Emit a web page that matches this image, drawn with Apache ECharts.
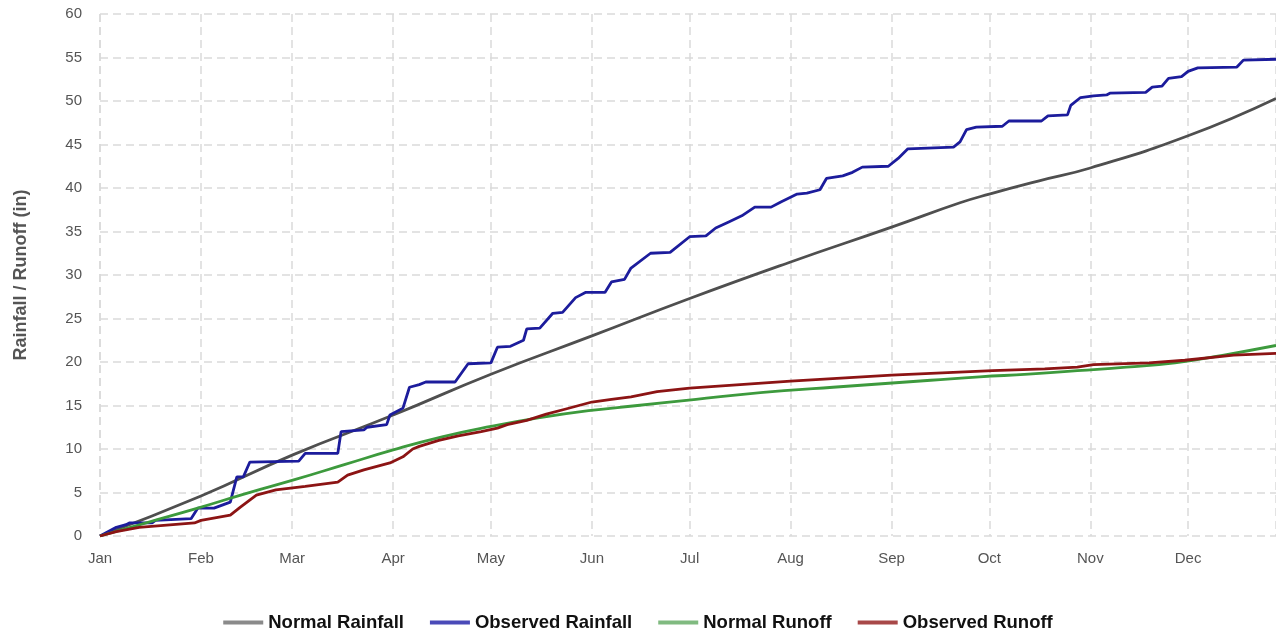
<!DOCTYPE html>
<html>
<head>
<meta charset="utf-8">
<title>Rainfall / Runoff</title>
<script src="https://cdn.jsdelivr.net/npm/echarts@6/dist/echarts.min.js"></script>
<style>
  html, body { margin: 0; padding: 0; background: #fff; }
  #chart { width: 1276px; height: 630px; }
</style>
</head>
<body>
<div id="chart"></div>
<script>
// day offsets from Jan 1, cumulative inches
const normalRainDays = [0, 31, 59, 90, 120, 151, 181, 212, 243, 264, 273, 288, 304, 334, 361]
const normalRainVals = [0, 4.6, 9.3, 13.9, 18.6, 23.0, 27.3, 31.5, 35.5, 38.3, 39.3, 40.8, 42.3, 46.0, 50.3]

const obsRainDays = [0, 5, 8, 9, 16, 17, 28, 30, 35, 40, 42, 44, 46, 61, 63, 73, 74, 81, 82, 88, 89, 93, 95, 98, 100, 109, 113, 120, 122, 126, 130, 131, 135, 139, 142, 146, 149, 155, 157, 161, 163, 169, 175, 181, 186, 189, 193, 197, 201, 206, 209, 214, 217, 221, 223, 228, 231, 234, 242, 245, 248, 262, 264, 266, 269, 277, 279, 289, 291, 297, 298, 301, 305, 309, 310, 321, 323, 326, 328, 332, 334, 337, 349, 351, 361]
const obsRainVals = [0, 1.0, 1.3, 1.5, 1.5, 1.8, 2.0, 3.2, 3.2, 3.9, 6.8, 6.8, 8.5, 8.6, 9.5, 9.5, 12.0, 12.2, 12.5, 12.8, 13.9, 14.7, 17.1, 17.4, 17.7, 17.7, 19.8, 19.9, 21.7, 21.8, 22.5, 23.8, 23.9, 25.6, 25.7, 27.4, 28.0, 28.0, 29.2, 29.5, 30.8, 32.5, 32.6, 34.4, 34.5, 35.4, 36.1, 36.8, 37.8, 37.8, 38.4, 39.3, 39.4, 39.8, 41.1, 41.4, 41.8, 42.4, 42.5, 43.4, 44.5, 44.7, 45.3, 46.7, 47.0, 47.1, 47.7, 47.7, 48.3, 48.4, 49.5, 50.4, 50.6, 50.7, 50.9, 51.0, 51.6, 51.7, 52.6, 52.8, 53.4, 53.8, 53.9, 54.7, 54.8]

const normalRunoffDays = [0, 15, 30, 45, 60, 75, 90, 105, 120, 135, 150, 165, 180, 195, 210, 225, 240, 255, 270, 285, 300, 315, 330, 345, 361]
const normalRunoffVals = [0, 1.6, 3.2, 4.9, 6.5, 8.2, 9.9, 11.4, 12.6, 13.6, 14.4, 15.0, 15.6, 16.2, 16.7, 17.1, 17.5, 17.9, 18.3, 18.6, 19.0, 19.4, 19.9, 20.8, 21.9]

const obsRunoffDays = [0, 5, 12, 29, 31, 40, 43, 48, 54, 63, 73, 76, 81, 89, 93, 96, 98, 104, 110, 117, 122, 125, 131, 137, 143, 151, 157, 163, 171, 181, 212, 243, 274, 290, 300, 305, 322, 333, 348, 361]
const obsRunoffVals = [0, 0.5, 1.0, 1.5, 1.8, 2.4, 3.3, 4.7, 5.3, 5.7, 6.2, 7.0, 7.6, 8.4, 9.1, 10.0, 10.3, 11.0, 11.5, 12.0, 12.4, 12.8, 13.3, 14.0, 14.6, 15.4, 15.7, 16.0, 16.6, 17.0, 17.8, 18.5, 19.0, 19.2, 19.4, 19.7, 19.9, 20.2, 20.8, 21.0]

const seriesNames = ['Normal Rainfall', 'Observed Rainfall', 'Normal Runoff', 'Observed Runoff']
const lineColors = ['#4f4f4f', '#1c1c9c', '#3d9a3d', '#8c1414']
const legendColors = ['#8a8a8a', '#4a4ab8', '#80ba80', '#a84848']

const DAY = 86400000
const start = new Date(2023, 0, 1).getTime()
const toData = (days, vals) => days.map((d, i) => [start + d * DAY, vals[i]])

const chart = echarts.init(document.getElementById('chart'))

const makeSeries = (i, days, vals, smooth) => ({
  name: seriesNames[i],
  type: 'line',
  data: toData(days, vals),
  showSymbol: false,
  smooth: smooth,
  color: legendColors[i],
  lineStyle: { color: lineColors[i], width: 2.8 },
  emphasis: { disabled: true }
})

chart.setOption({
  animation: false,
  textStyle: { fontFamily: 'Liberation Sans, Arial, sans-serif' },
  grid: { left: 100, right: 0, top: 14, bottom: 94 },
  legend: {
    top: 608,
    left: 'center',
    icon: 'rect',
    itemWidth: 40,
    itemHeight: 4,
    itemGap: 26,
    textStyle: { fontSize: 18.5, fontWeight: 'bold', color: '#111' },
    data: seriesNames
  },
  xAxis: {
    type: 'time',
    min: start,
    max: start + 361 * DAY,
    minInterval: 28 * DAY,
    maxInterval: 31 * DAY,
    axisLine: { show: false },
    axisTick: { show: false },
    axisLabel: {
      formatter: '{MMM}',
      fontSize: 15,
      color: '#555',
      margin: 15,
      showMaxLabel: false
    },
    splitLine: { show: true, lineStyle: { color: '#dadada', width: 1.5, type: [8, 5] } }
  },
  yAxis: {
    type: 'value',
    min: 0,
    max: 60,
    interval: 5,
    name: 'Rainfall / Runoff (in)',
    nameLocation: 'middle',
    nameGap: 70,
    nameTextStyle: { fontSize: 18, fontWeight: 'bold', color: '#555' },
    axisLine: { show: false },
    axisTick: { show: false },
    axisLabel: { fontSize: 15, color: '#555', margin: 18 },
    splitLine: { lineStyle: { color: '#dadada', width: 1.5, type: [8, 5] } }
  },
  series: [
    makeSeries(0, normalRainDays, normalRainVals, true),
    makeSeries(1, obsRainDays, obsRainVals, false),
    makeSeries(2, normalRunoffDays, normalRunoffVals, true),
    makeSeries(3, obsRunoffDays, obsRunoffVals, false)
  ]
})
</script>
</body>
</html>
